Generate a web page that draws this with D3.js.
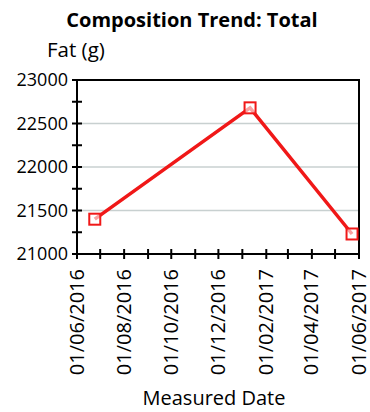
<!DOCTYPE html>
<html>
<head>
<meta charset="utf-8">
<script src="https://cdn.jsdelivr.net/npm/d3@7"></script>
<style>
  body { margin: 0; background: #fff; }
  svg { display: block; font-family: "Open Sans", "Noto Sans", sans-serif; }
</style>
</head>
<body>
<div id="chart"></div>
<script>
// data
var dates = ["2016-06-24", "2017-01-11", "2017-05-23"];
var fat = [21400, 22680, 21230];
var xTickLabels = ["01/06/2016", "01/08/2016", "01/10/2016", "01/12/2016", "01/02/2017", "01/04/2017", "01/06/2017"];
var yTicks = [21000, 21500, 22000, 22500, 23000];

var width = 370, height = 412;
var margin = { top: 80, right: 11, bottom: 158, left: 77 };
var mwidth = width - margin.left - margin.right;
var mheight = height - margin.top - margin.bottom;

var parse = d3.timeParse("%Y-%m-%d");
var parseLabel = d3.timeParse("%d/%m/%Y");
var data = dates.map(function (d, i) { return { date: parse(d), value: fat[i] }; });

var svg = d3.select("#chart").append("svg")
    .attr("width", width)
    .attr("height", height);

var x = d3.scaleTime()
    .domain([parseLabel(xTickLabels[0]), parseLabel(xTickLabels[xTickLabels.length - 1])])
    .range([0, mwidth]);
var y = d3.scaleLinear()
    .domain([21000, 23000])
    .range([mheight, 0]);

var g = svg.append("g")
    .attr("transform", "translate(" + margin.left + "," + margin.top + ")");

// grid lines
g.selectAll(".grid")
    .data(yTicks.slice(1, -1))
    .enter().append("line")
    .attr("x1", 0).attr("x2", mwidth)
    .attr("y1", function (d) { return y(d); })
    .attr("y2", function (d) { return y(d); })
    .attr("stroke", "#c8d0d0")
    .attr("stroke-width", 1.5);

// frame top/right
g.append("path")
    .attr("d", "M0,0H" + mwidth + "V" + mheight)
    .attr("fill", "none")
    .attr("stroke", "#000")
    .attr("stroke-width", 2);

// y axis
var yMinor = d3.range(21000, 23001, 250);
g.selectAll(".ytick")
    .data(yMinor)
    .enter().append("line")
    .attr("x1", -5).attr("x2", 5)
    .attr("y1", function (d) { return y(d); })
    .attr("y2", function (d) { return y(d); })
    .attr("stroke", "#000").attr("stroke-width", 2);
g.append("line")
    .attr("x1", 0).attr("x2", 0).attr("y1", 0).attr("y2", mheight)
    .attr("stroke", "#000").attr("stroke-width", 2);
g.selectAll(".ylabel")
    .data(yTicks)
    .enter().append("text")
    .attr("x", -9)
    .attr("y", function (d) { return y(d); })
    .attr("dy", "0.35em")
    .attr("text-anchor", "end")
    .attr("font-size", 18)
    .text(function (d) { return d; });

// x axis
var months = d3.timeMonth.range(x.domain()[0], d3.timeDay.offset(x.domain()[1], 1));
g.selectAll(".xtick")
    .data(months)
    .enter().append("line")
    .attr("x1", function (d) { return x(d); })
    .attr("x2", function (d) { return x(d); })
    .attr("y1", mheight - 5).attr("y2", mheight + 5)
    .attr("stroke", "#000").attr("stroke-width", 2);
g.append("line")
    .attr("x1", 0).attr("x2", mwidth).attr("y1", mheight).attr("y2", mheight)
    .attr("stroke", "#000").attr("stroke-width", 2);
g.selectAll(".xlabel")
    .data(xTickLabels)
    .enter().append("text")
    .attr("transform", function (d) {
        return "translate(" + x(parseLabel(d)) + "," + (mheight + 15) + ") rotate(-90)";
    })
    .attr("dy", "0.33em")
    .attr("text-anchor", "end")
    .attr("font-size", 20)
    .text(function (d) { return d; });

// series
var line = d3.line()
    .x(function (d) { return x(d.date); })
    .y(function (d) { return y(d.value); });
g.append("path")
    .datum(data)
    .attr("d", line)
    .attr("fill", "none")
    .attr("stroke", "#f01818")
    .attr("stroke-width", 3.5);
g.selectAll(".marker")
    .data(data)
    .enter().append("rect")
    .attr("x", function (d) { return x(d.date) - 5.5; })
    .attr("y", function (d) { return y(d.value) - 5.5; })
    .attr("width", 11).attr("height", 11)
    .attr("fill", "#fff")
    .attr("fill-opacity", 0.6)
    .attr("stroke", "#f01818")
    .attr("stroke-width", 2);

// titles
svg.append("text")
    .attr("x", 192).attr("y", 27)
    .attr("text-anchor", "middle")
    .attr("font-size", 20)
    .attr("font-weight", "bold")
    .text("Composition Trend: Total");
svg.append("text")
    .attr("x", 47).attr("y", 57)
    .attr("font-size", 20.5)
    .text("Fat (g)");
svg.append("text")
    .attr("x", 214).attr("y", 405)
    .attr("text-anchor", "middle")
    .attr("font-size", 20)
    .text("Measured Date");
</script>
</body>
</html>
